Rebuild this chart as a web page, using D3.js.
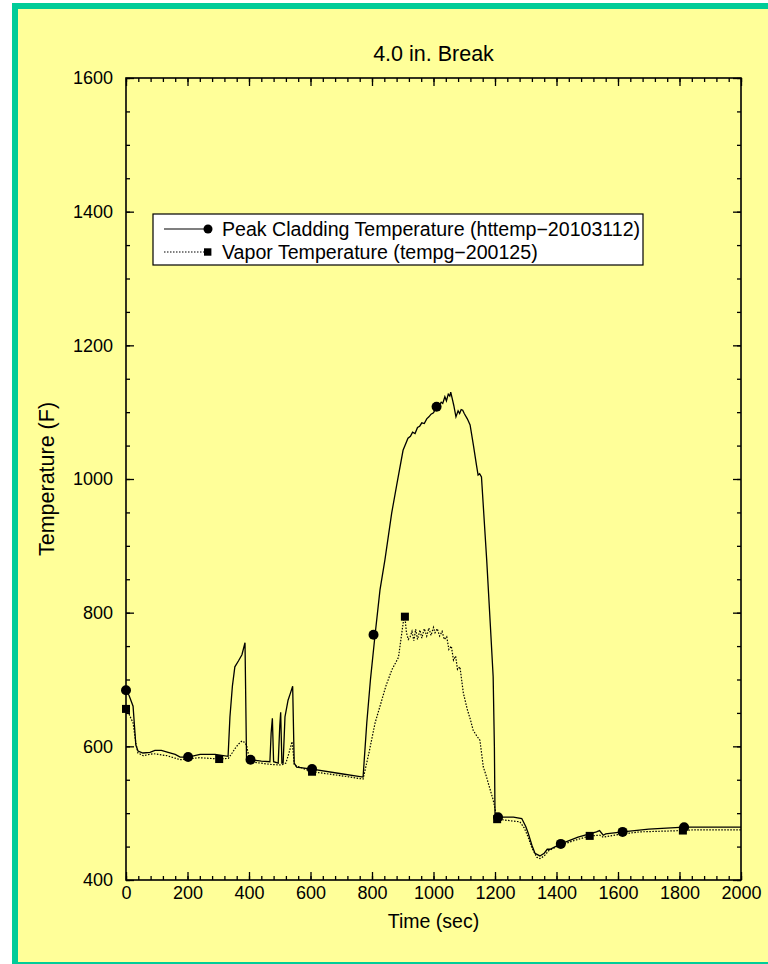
<!DOCTYPE html>
<html>
<head>
<meta charset="utf-8">
<script src="https://cdn.jsdelivr.net/npm/d3@7/dist/d3.min.js"></script>
<style>
html,body{margin:0;padding:0;background:#fff;}
svg{display:block;}
text{font-family:"Liberation Sans",Arial,Helvetica,sans-serif;fill:#000;}
</style>
</head>
<body>
<svg id="chart" width="768" height="964"></svg>
<script>
// ---------- data ----------
const title = "4.0 in. Break";
const xLabel = "Time (sec)";
const yLabel = "Temperature (F)";
const xTicks = [0,200,400,600,800,1000,1200,1400,1600,1800,2000];
const yTicks = [400,600,800,1000,1200,1400,1600];

const pctName = "Peak Cladding Temperature (httemp\u221220103112)";
const pctTime = [0,10,23,32,39,55,78,94,115,137,160,176,202,241,290,332,338,346,354,366,377,387,392,405,440,468,472,476,480,495,500,503,507,511,517,527,535,542,547,555,605,700,771,783,795,810,826,842,864,880,901,917,925,932,940,948,955,962,970,978,985,992,1000,1010,1018,1025,1030,1037,1042,1048,1053,1056,1060,1066,1073,1080,1085,1090,1095,1100,1110,1119,1130,1140,1145,1150,1156,1173,1185,1194,1198,1200,1210,1260,1287,1300,1308,1320,1330,1346,1360,1370,1379,1414,1470,1530,1540,1552,1560,1615,1700,1815,2000];
const pctTemp = [684,676,660,602,593,590,591,594,594,591,588,584,584,588,588,585,644,690,719,728,737,755,580,580,578,577,620,642,577,575,630,651,575,575,644,669,680,690,575,569,566,559,554,635,700,767,834,879,949,990,1043,1061,1064,1070,1068,1077,1079,1084,1083,1090,1093,1097,1099,1108,1110,1115,1113,1123,1117,1127,1124,1130,1122,1110,1093,1102,1098,1104,1103,1098,1090,1081,1050,1020,1006,1008,1003,879,780,704,600,500,494,494,492,480,470,452,440,436,440,446,446,454,464,472,474,467,469,472,476,479,479];

const vapName = "Vapor Temperature (tempg\u2212200125)";
const vapTime = [0,10,23,32,39,56,89,133,176,240,303,333,345,355,365,377,385,392,397,404,468,506,520,530,540,544,547,605,700,771,790,810,826,845,865,886,897,903,907,912,918,924,930,936,942,948,956,962,970,978,985,992,1000,1005,1012,1020,1028,1035,1043,1050,1058,1065,1072,1078,1086,1097,1110,1120,1129,1140,1151,1162,1170,1178,1194,1207,1281,1295,1308,1320,1336,1346,1360,1375,1401,1450,1508,1541,1552,1600,1671,1811,1844,2000];
const vapTemp = [656,648,635,605,590,586,589,586,580,583,581,582,590,597,603,608,606,602,590,577,573,572,575,590,607,590,572,562,556,551,590,635,660,690,715,733,770,790,794,770,760,764,772,758,775,760,774,762,776,765,777,766,778,770,776,765,772,760,764,745,750,729,735,715,719,680,655,640,624,616,609,569,558,545,520,491,487,478,464,448,434,432,436,444,450,458,466,467,464,468,472,474,475,475];

const pctMarkTime = [0,202,405,605,805,1010,1210,1414,1615,1815];
const pctMarkTemp = [684,584,580,566,767,1108,494,454,472,479];
const vapMarkTime = [0,303,605,907,1207,1508,1811];
const vapMarkTemp = [656,581,562,794,491,466,474];

// ---------- layout ----------
const svg = d3.select("#chart");
svg.append("rect").attr("x",12).attr("y",3).attr("width",756).attr("height",961).attr("fill","#00cc99");
svg.append("rect").attr("x",18).attr("y",9).attr("width",750).attr("height",953).attr("fill","#ffff99");

const L = 126, R = 741, T = 78, B = 880;
const x = d3.scaleLinear().domain([0,2000]).range([L,R]);
const y = d3.scaleLinear().domain([400,1600]).range([B,T]);

const xMinor = d3.range(0,2001,40);
const yMinor = d3.range(400,1601,50);

function styleAxis(g){
  g.select(".domain").remove();
  g.selectAll(".tick line").attr("stroke","#000").attr("stroke-width",1.3);
  g.selectAll(".tick text").style("font-size","18px").attr("fill","#000");
}
// bottom
svg.append("g").attr("transform",`translate(0,${B})`)
  .call(d3.axisBottom(x).tickValues(xMinor).tickSize(-4).tickSizeOuter(0).tickFormat(""))
  .call(styleAxis);
svg.append("g").attr("transform",`translate(0,${B})`)
  .call(d3.axisBottom(x).tickValues(xTicks).tickSize(-8).tickSizeOuter(0).tickPadding(6).tickFormat(d3.format("d")))
  .call(styleAxis)
  .call(g=>g.selectAll(".tick text").attr("dy","0.71em"));
// top
svg.append("g").attr("transform",`translate(0,${T})`)
  .call(d3.axisTop(x).tickValues(xMinor).tickSize(-4).tickSizeOuter(0).tickFormat(""))
  .call(styleAxis);
svg.append("g").attr("transform",`translate(0,${T})`)
  .call(d3.axisTop(x).tickValues(xTicks).tickSize(-8).tickSizeOuter(0).tickFormat(""))
  .call(styleAxis);
// left
svg.append("g").attr("transform",`translate(${L},0)`)
  .call(d3.axisLeft(y).tickValues(yMinor).tickSize(-4).tickSizeOuter(0).tickFormat(""))
  .call(styleAxis);
svg.append("g").attr("transform",`translate(${L},0)`)
  .call(d3.axisLeft(y).tickValues(yTicks).tickSize(-8).tickSizeOuter(0).tickPadding(13).tickFormat(d3.format("d")))
  .call(styleAxis);
// right
svg.append("g").attr("transform",`translate(${R},0)`)
  .call(d3.axisRight(y).tickValues(yMinor).tickSize(-4).tickSizeOuter(0).tickFormat(""))
  .call(styleAxis);
svg.append("g").attr("transform",`translate(${R},0)`)
  .call(d3.axisRight(y).tickValues(yTicks).tickSize(-8).tickSizeOuter(0).tickFormat(""))
  .call(styleAxis);

// frame
svg.append("rect").attr("x",L).attr("y",T).attr("width",R-L).attr("height",B-T)
  .attr("fill","none").attr("stroke","#000").attr("stroke-width",1.6);

// titles
svg.append("text").attr("x",(L+R)/2).attr("y",61).attr("text-anchor","middle")
  .style("font-size","21.5px").text(title);
svg.append("text").attr("x",(L+R)/2).attr("y",928).attr("text-anchor","middle")
  .style("font-size","19.5px").text(xLabel);
svg.append("text").attr("transform",`translate(54,${(402+556)/2}) rotate(-90)`).attr("text-anchor","middle")
  .style("font-size","21.5px").text(yLabel);

// lines
const clipId = "plotclip";
svg.append("clipPath").attr("id",clipId).append("rect").attr("x",L).attr("y",T).attr("width",R-L).attr("height",B-T);
const line = d3.line().x(d=>x(d[0])).y(d=>y(d[1]));
const pctData = pctTime.map((t,i)=>[t,pctTemp[i]]);
const vapData = vapTime.map((t,i)=>[t,vapTemp[i]]);
const plot = svg.append("g").attr("clip-path",`url(#${clipId})`);
plot.append("path").datum(vapData).attr("d",line).attr("fill","none")
  .attr("stroke","#000").attr("stroke-width",1.2).attr("stroke-dasharray","1.5,1.5");
plot.append("path").datum(pctData).attr("d",line).attr("fill","none")
  .attr("stroke","#000").attr("stroke-width",1.3);

// markers
svg.append("g").selectAll("circle").data(pctMarkTime.map((t,i)=>[t,pctMarkTemp[i]])).join("circle")
  .attr("cx",d=>x(d[0])).attr("cy",d=>y(d[1])).attr("r",5).attr("fill","#000");
svg.append("g").selectAll("rect").data(vapMarkTime.map((t,i)=>[t,vapMarkTemp[i]])).join("rect")
  .attr("x",d=>x(d[0])-4).attr("y",d=>y(d[1])-4).attr("width",8).attr("height",8).attr("fill","#000");

// legend
const lg = svg.append("g");
lg.append("rect").attr("x",153).attr("y",214).attr("width",490).attr("height",51)
  .attr("fill","#fff").attr("stroke","#000").attr("stroke-width",1.2);
const rows = [{name:pctName,dash:null,mark:"circle",yy:229},{name:vapName,dash:"1.5,1.5",mark:"square",yy:252}];
rows.forEach(r=>{
  lg.append("line").attr("x1",164).attr("x2",207).attr("y1",r.yy).attr("y2",r.yy)
    .attr("stroke","#000").attr("stroke-width",1.2).attr("stroke-dasharray",r.dash);
  if(r.mark==="circle") lg.append("circle").attr("cx",208).attr("cy",r.yy).attr("r",4.5).attr("fill","#000");
  else lg.append("rect").attr("x",204).attr("y",r.yy-3.7).attr("width",7.4).attr("height",7.4).attr("fill","#000");
  lg.append("text").attr("x",222).attr("y",r.yy).attr("dy","0.36em").style("font-size","19.6px").text(r.name);
});
</script>
</body>
</html>
